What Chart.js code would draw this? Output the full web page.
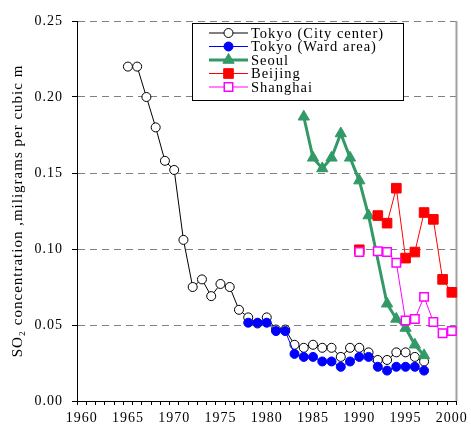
<!DOCTYPE html>
<html>
<head>
<meta charset="utf-8">
<script src="https://cdn.jsdelivr.net/npm/chart.js@4.4.1/dist/chart.umd.min.js"></script>
<style>
  html, body { margin: 0; padding: 0; background: #fff; }
  #wrap { width: 471px; height: 425px; }
</style>
</head>
<body>
<div id="wrap"><canvas id="so2"></canvas></div>
<script>
// Years on the category axis (1960-2000)
const years = [];
for (let y = 1960; y <= 2000; y++) years.push(String(y));

// SO2 values, mg per cubic m, one entry per year (null = no data)
const tokyoCity = [
  null, null, null, null, null, 0.220, 0.220, 0.200, 0.180, 0.158,
  0.152, 0.106, 0.075, 0.080, 0.069, 0.077, 0.075, 0.060, 0.055, 0.051,
  0.055, 0.047, 0.047, 0.037, 0.035, 0.037, 0.035, 0.035, 0.029, 0.035,
  0.035, 0.032, 0.027, 0.027, 0.032, 0.032, 0.029, 0.026, null, null, null
];
const tokyoWard = [
  null, null, null, null, null, null, null, null, null, null,
  null, null, null, null, null, null, null, null, 0.0515, 0.0515,
  0.0515, 0.046, 0.046, 0.031, 0.029, 0.029, 0.026, 0.026, 0.0225, 0.026,
  0.029, 0.029, 0.0225, 0.020, 0.0225, 0.0225, 0.0225, 0.020, null, null, null
];
const seoul = [
  null, null, null, null, null, null, null, null, null, null,
  null, null, null, null, null, null, null, null, null, null,
  null, null, null, null, 0.187, 0.160, 0.153, 0.160, 0.176, 0.160,
  0.145, 0.122, null, 0.064, 0.054, 0.048, 0.037, 0.030, null, null, null
];
const beijing = [
  null, null, null, null, null, null, null, null, null, null,
  null, null, null, null, null, null, null, null, null, null,
  null, null, null, null, null, null, null, null, null, null,
  0.0995, null, 0.122, 0.117, 0.140, 0.094, 0.098, 0.124, 0.1195, 0.080, 0.0715
];
const shanghai = [
  null, null, null, null, null, null, null, null, null, null,
  null, null, null, null, null, null, null, null, null, null,
  null, null, null, null, null, null, null, null, null, null,
  0.098, null, 0.0985, 0.098, 0.091, 0.053, 0.054, 0.0685, 0.052, 0.0445, 0.046
];

const yTicks = [0, 0.05, 0.10, 0.15, 0.20, 0.25];

const serif = '"Liberation Serif", "Times New Roman", serif';

// Legend drawn inside the plot, like the original
const boxLegend = {
  id: 'boxLegend',
  afterDatasetsDraw(chart) {
    const ctx = chart.ctx;
    const left = 192, top = 23, right = 403, bottom = 100;
    ctx.save();
    ctx.fillStyle = '#fff';
    ctx.fillRect(left, top, right - left, bottom - top);
    ctx.strokeStyle = '#000';
    ctx.lineWidth = 1;
    ctx.strokeRect(left + 0.5, top + 0.5, right - left, bottom - top);

    ctx.font = '14.5px ' + serif;
    ctx.textBaseline = 'middle';
    chart.data.datasets.forEach((ds, i) => {
      const y = 33 + i * 13.5;
      ctx.strokeStyle = ds.borderColor;
      ctx.lineWidth = ds.borderWidth;
      ctx.beginPath();
      ctx.moveTo(209, y);
      ctx.lineTo(248, y);
      ctx.stroke();
      ctx.fillStyle = ds.pointBackgroundColor;
      ctx.strokeStyle = ds.pointBorderColor;
      ctx.lineWidth = ds.pointBorderWidth;
      Chart.helpers.drawPoint(ctx, {
        pointStyle: ds.pointStyle, radius: ds.pointRadius,
        borderWidth: ds.pointBorderWidth, rotation: 0
      }, 228.5, y);
      ctx.fillStyle = '#000';
      ctx.fillText(ds.label, 251, y + 1);
    });
    ctx.restore();
  }
};

// grey frame line on the right of the plot
const rightEdge = {
  id: 'rightEdge',
  beforeDatasetsDraw(chart) {
    const {ctx, chartArea} = chart;
    ctx.save();
    ctx.strokeStyle = '#a0a0a0';
    ctx.lineWidth = 2;
    ctx.beginPath();
    ctx.moveTo(chartArea.right, chartArea.top);
    ctx.lineTo(chartArea.right, chartArea.bottom);
    ctx.stroke();
    ctx.restore();
  }
};

const spacing = {
  id: 'spacing',
  beforeDraw(chart) { chart.ctx.letterSpacing = '1px'; }
};

new Chart(document.getElementById('so2'), {
  type: 'line',
  data: {
    labels: years,
    datasets: [
      {
        label: 'Tokyo (City center)', data: tokyoCity, order: 5,
        borderColor: '#000', borderWidth: 1,
        pointStyle: 'circle', pointRadius: 4.5, pointBorderWidth: 1,
        pointBackgroundColor: '#fff', pointBorderColor: '#000'
      },
      {
        label: 'Tokyo (Ward area)', data: tokyoWard, order: 4,
        borderColor: '#0000ff', borderWidth: 1,
        pointStyle: 'circle', pointRadius: 4.5, pointBorderWidth: 1,
        pointBackgroundColor: '#0000ff', pointBorderColor: '#0000ff'
      },
      {
        label: 'Seoul', data: seoul, order: 3, spanGaps: true,
        borderColor: '#339966', borderWidth: 3,
        pointStyle: 'triangle', pointRadius: 6.5, pointBorderWidth: 1,
        pointBackgroundColor: '#339966', pointBorderColor: '#339966'
      },
      {
        label: 'Beijing', data: beijing, order: 2,
        borderColor: '#ff0000', borderWidth: 1,
        pointStyle: 'rect', pointRadius: 6.8, pointBorderWidth: 1,
        pointBackgroundColor: '#ff0000', pointBorderColor: '#ff0000'
      },
      {
        label: 'Shanghai', data: shanghai, order: 1,
        borderColor: '#ff00ff', borderWidth: 1,
        pointStyle: 'rect', pointRadius: 6, pointBorderWidth: 1.5,
        pointBackgroundColor: '#fff', pointBorderColor: '#ff00ff'
      }
    ]
  },
  options: {
    responsive: true,
    maintainAspectRatio: false,
    animation: false,
    layout: { padding: { top: 21, right: 12, left: 0, bottom: 0 } },
    elements: { line: { tension: 0 } },
    plugins: {
      legend: { display: false },
      tooltip: { enabled: false }
    },
    scales: {
      x: {
        type: 'category',
        offset: true,
        afterFit(scale) { scale.height = 24; },
        grid: { offset: true, drawOnChartArea: false, tickLength: 4, color: '#000' },
        border: { color: '#000', width: 1 },
        ticks: {
          autoSkip: false, maxRotation: 0, minRotation: 0, padding: 5,
          color: '#000', font: { family: serif, size: 14 },
          callback(value) {
            const label = this.getLabelForValue(value);
            return Number(label) % 5 === 0 ? label : '';
          }
        }
      },
      y: {
        min: 0, max: 0.25,
        afterFit(scale) { scale.width = 77; },
        afterBuildTicks(scale) { scale.ticks = yTicks.map(v => ({ value: v })); },
        grid: {
          color: c => (c.tick && c.tick.value === 0 ? 'rgba(0,0,0,0)' : '#808080'),
          tickColor: '#000', tickLength: 5
        },
        border: { color: '#000', width: 1, dash: [7, 5] },
        ticks: {
          padding: 9, color: '#000', font: { family: serif, size: 14 },
          callback: v => v.toFixed(2)
        },
        title: {
          display: true,
          text: 'SO\u2082 concentration ,miligrams per cubic m',
          color: '#000', font: { family: serif, size: 15 },
          padding: { top: 9, bottom: 0 }
        }
      }
    }
  },
  plugins: [spacing, rightEdge, boxLegend]
});
</script>
</body>
</html>
